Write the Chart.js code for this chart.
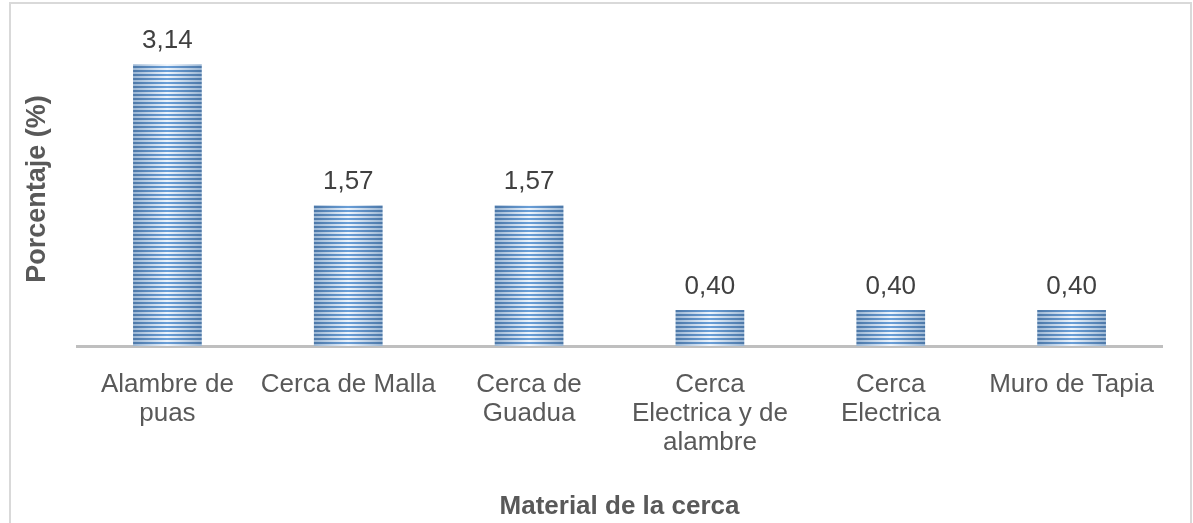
<!DOCTYPE html>
<html>
<head>
<meta charset="utf-8">
<script src="https://cdn.jsdelivr.net/npm/chart.js@4/dist/chart.umd.min.js"></script>
<style>
  body { margin: 0; background: #fff; }
  #wrap { position: relative; width: 1193px; height: 523px; overflow: hidden; }
  #frame { position: absolute; left: 9px; top: 2px; width: 1179px; height: 600px;
           border: 2px solid #d9d9d9; border-bottom: none; pointer-events: none; }
</style>
</head>
<body>
<div id="wrap">
  <canvas id="cercaChart"></canvas>
  <div id="frame"></div>
</div>
<script>
var labels = [
    ['Alambre de', 'puas'],
    'Cerca de Malla',
    ['Cerca de', 'Guadua'],
    ['Cerca', 'Electrica y de', 'alambre'],
    ['Cerca', 'Electrica'],
    'Muro de Tapia'
]
var porcentaje = [3.14, 1.57, 1.57, 0.40, 0.40, 0.40]

const barFraction = 0.38
const fontFamily = '"Liberation Sans", Arial, sans-serif'

// striped blue fill, lighter toward the middle of each bar
var fillCache = {}
function stripeFill(context) {
    var chart = context.chart
    var xs = chart.scales.x
    if (!xs || !chart.chartArea) return '#5b8fd0'
    var w = Math.max(1, Math.round(xs.width / labels.length * barFraction))
    var left = xs.getPixelForValue(context.dataIndex) - w / 2
    var key = context.dataIndex + ':' + w + ':' + left
    if (fillCache[key]) return fillCache[key]

    var tile = document.createElement('canvas')
    tile.width = w
    tile.height = 4
    var t = tile.getContext('2d')

    var dark = t.createLinearGradient(0, 0, w, 0)
    dark.addColorStop(0, '#4d78a8')
    dark.addColorStop(0.5, '#6a9fd8')
    dark.addColorStop(1, '#4d78a8')
    t.fillStyle = dark
    t.fillRect(0, 0, w, 2)

    var light = t.createLinearGradient(0, 0, w, 0)
    light.addColorStop(0, '#9ab6d4')
    light.addColorStop(0.5, '#eef5fd')
    light.addColorStop(1, '#9ab6d4')
    t.fillStyle = light
    t.fillRect(0, 2, w, 2)

    var p = chart.ctx.createPattern(tile, 'repeat')
    p.setTransform(new DOMMatrix().translate(left, chart.chartArea.bottom))
    fillCache[key] = p
    return p
}

// value above each bar, decimal comma
var valueLabels = {
    id: 'valueLabels',
    afterDatasetsDraw(chart) {
        var ctx = chart.ctx
        var meta = chart.getDatasetMeta(0)
        ctx.save()
        ctx.font = '26px ' + fontFamily
        ctx.fillStyle = '#404040'
        ctx.textAlign = 'center'
        ctx.textBaseline = 'middle'
        meta.data.forEach(function(bar, i) {
            var txt = porcentaje[i].toFixed(2).replace('.', ',')
            ctx.fillText(txt, bar.x, bar.y - 23)
        })
        ctx.restore()
    }
}

var ctx = document.getElementById('cercaChart').getContext('2d')

var chart = new Chart(ctx, {
    type: 'bar',
    data: {
        labels: labels,
        datasets: [{
            label: 'Porcentaje',
            data: porcentaje,
            backgroundColor: stripeFill,
            borderWidth: 0,
            barPercentage: 1,
            categoryPercentage: barFraction
        }]
    },
    options: {
        responsive: true,
        maintainAspectRatio: false,
        animation: false,
        layout: { padding: { top: 32, right: 31, left: 0, bottom: 0 } },
        plugins: {
            legend: { display: false },
            tooltip: { enabled: false }
        },
        scales: {
            x: {
                grid: { display: false },
                border: { display: true, color: '#bfbfbf', width: 3 },
                ticks: {
                    color: '#595959',
                    padding: 16,
                    maxRotation: 0,
                    autoSkip: false,
                    font: { family: fontFamily, size: 26, lineHeight: 1.12 }
                },
                title: {
                    display: true,
                    text: 'Material de la cerca',
                    color: '#595959',
                    padding: { top: 0, bottom: 1 },
                    font: { family: fontFamily, size: 26, weight: 'bold', lineHeight: 1.2 }
                },
                afterFit: function(s) { s.height = 177 }
            },
            y: {
                min: 0,
                max: 3.5,
                grid: { display: false },
                border: { display: false },
                ticks: { display: false },
                title: {
                    display: true,
                    text: 'Porcentaje (%)',
                    color: '#595959',
                    padding: { top: 21, bottom: 0 },
                    font: { family: fontFamily, size: 27, weight: 'bold', lineHeight: 1.2 }
                },
                afterFit: function(s) { s.width = 77 }
            }
        }
    },
    plugins: [valueLabels]
})
</script>
</body>
</html>
